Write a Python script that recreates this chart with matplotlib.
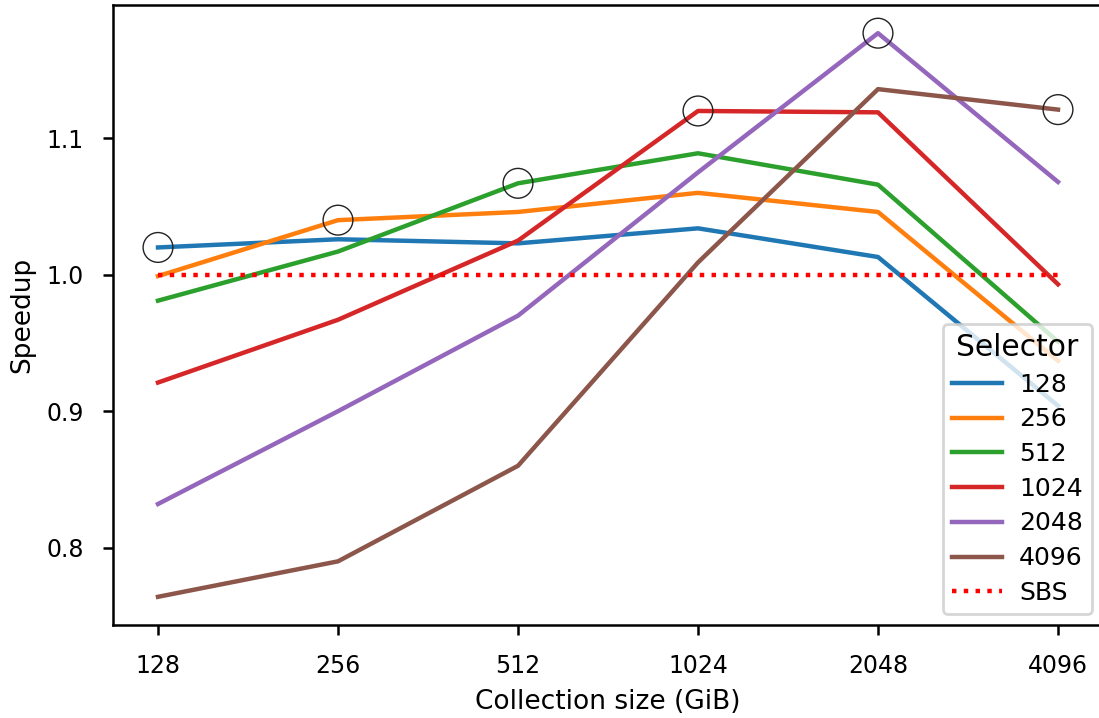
import matplotlib
matplotlib.use("Agg")
import matplotlib.pyplot as plt
import numpy as np

# Collection sizes (GiB) on the x axis
sizes = ["128", "256", "512", "1024", "2048", "4096"]

# Speedup of each selector configuration, per collection size
sel_128 = [1.020, 1.026, 1.023, 1.034, 1.013, 0.904]
sel_256 = [0.999, 1.040, 1.046, 1.060, 1.046, 0.937]
sel_512 = [0.981, 1.017, 1.067, 1.089, 1.066, 0.951]
sel_1024 = [0.921, 0.967, 1.025, 1.120, 1.119, 0.993]
sel_2048 = [0.832, 0.900, 0.970, 1.075, 1.177, 1.068]
sel_4096 = [0.764, 0.790, 0.860, 1.009, 1.136, 1.121]

selector_names = ["128", "256", "512", "1024", "2048", "4096"]
sbs_value = 1.0

series = [sel_128, sel_256, sel_512, sel_1024, sel_2048, sel_4096]
colors = ["#1f77b4", "#ff7f0e", "#2ca02c", "#d62728", "#9467bd", "#8c564b"]

W, H, DPI = 1099, 718, 200
fig = plt.figure(figsize=(W / DPI, H / DPI), dpi=DPI)
ax = fig.add_axes([113 / W, 93 / H, (1103 - 113) / W, (625 - 5) / H])

x = np.arange(len(sizes))
for name, vals, c in zip(selector_names, series, colors):
    ax.plot(x, vals, color=c, lw=1.6, label=name)

ax.plot(x, [sbs_value] * len(x), color="red", ls=":", lw=1.6, label="SBS")

# Circle the best selector at every collection size
best = np.max(np.array(series), axis=0)
ax.scatter(x, best, s=115, facecolors="none", edgecolors="#222222",
           linewidths=0.5, zorder=5)

ax.set_xticks(x)
ax.set_xticklabels(sizes)
ax.tick_params(labelsize=8.5, pad=7, width=0.9)
for sp in ax.spines.values():
    sp.set_linewidth(0.9)
ax.set_xlim(-0.25, 5.25)
lo = min(min(s) for s in series)
hi = max(max(s) for s in series)
pad = (hi - lo) * 0.05
ax.set_ylim(lo - pad, hi + pad)
ax.set_yticks([0.8, 0.9, 1.0, 1.1])

ax.set_xlabel("Collection size (GiB)", fontsize=9.5)
ax.set_ylabel("Speedup", fontsize=9.5)

leg = ax.legend(title="Selector", loc="lower right", fontsize=9,
                title_fontsize=10.7, labelspacing=0.43, handletextpad=0.7,
                borderpad=0.35, borderaxespad=0.45)

fig.savefig("out.png", dpi=DPI)
